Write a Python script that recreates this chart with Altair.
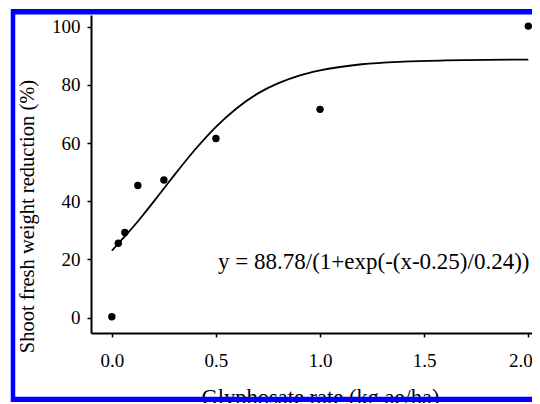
import altair as alt
import pandas as pd

# Observed data points
rate = [0.0, 0.03125, 0.0625, 0.125, 0.25, 0.5, 1.0, 2.0]
reduction = [0.3, 25.6, 29.3, 45.4, 47.3, 61.6, 71.6, 100.2]

# Fitted curve
curve_x = [0.0, 0.05, 0.1, 0.15, 0.2, 0.25, 0.3, 0.4, 0.5, 0.6, 0.7, 0.8, 0.9,
           1.0, 1.2, 1.4, 1.6, 1.8, 2.0]
curve_y = [23.0, 27.0, 31.0, 35.3, 39.8, 44.4, 49.0, 57.8, 65.6, 72.0, 77.0,
           80.6, 83.2, 85.0, 87.1, 88.0, 88.4, 88.6, 88.7]

equation = ["y = 88.78/(1+exp(-(x-0.25)/0.24))"]
eq_x = [0.51]
eq_y = [16.8]

x_ticks = [0.0, 0.5, 1.0, 1.5, 2.0]
y_ticks = list(range(0, 101, 10))

FONT = "Liberation Serif"
BLUE = "#0000ff"

pts = pd.DataFrame({"rate": rate, "reduction": reduction})
crv = pd.DataFrame({"rate": curve_x, "reduction": curve_y})
eqd = pd.DataFrame({"rate": eq_x, "reduction": eq_y, "label": equation})

xscale = alt.Scale(domain=[-0.1, 2.0178], nice=False, zero=False)
yscale = alt.Scale(domain=[-5.26, 104.02], nice=False, zero=False)

xaxis = alt.Axis(
    values=x_ticks, format=".1f", title="Glyphosate rate (kg ae/ha)",
    labelFontSize=19, labelPadding=14, tickSize=4,
    labelAlign=alt.expr("datum.value >= 2 ? 'right' : 'center'"),
    labelOffset=alt.expr("datum.value >= 2 ? 4 : 0"),
    labelBound=False, labelFlush=False,
    titleFontSize=22.5, titleFontWeight="normal", titleX=229, titleY=71,
    titleBaseline="alphabetic", titleAlign="center",
)
yaxis = alt.Axis(
    values=y_ticks, format="d", title="Shoot fresh weight reduction (%)",
    labelExpr="datum.value % 20 == 0 ? datum.label : ''",
    labelFontSize=19, labelPadding=7, tickSize=4,
    titleFontSize=20.5, titleFontWeight="normal", titleX=-58, titleY=201,
    titleAngle=270, titleBaseline="alphabetic", titleAlign="center",
)

base_x = alt.X("rate:Q", scale=xscale, axis=xaxis)
base_y = alt.Y("reduction:Q", scale=yscale, axis=yaxis)

line = alt.Chart(crv).mark_line(color="black", strokeWidth=1.8,
                                interpolate="monotone").encode(x=base_x, y=base_y)
dots = alt.Chart(pts).mark_circle(color="black", opacity=1, size=55).encode(
    x=alt.X("rate:Q", scale=xscale), y=alt.Y("reduction:Q", scale=yscale))
text = alt.Chart(eqd).mark_text(align="left", baseline="alphabetic", font=FONT,
                                fontSize=23, color="black").encode(
    x=alt.X("rate:Q", scale=xscale), y=alt.Y("reduction:Q", scale=yscale),
    text="label:N")

one = pd.DataFrame({"k": [0]})
top = alt.Chart(one).mark_rule(color=BLUE, strokeWidth=5.5).encode(
    x=alt.value(-80), x2=alt.value(441), y=alt.value(-3.25))
left = alt.Chart(one).mark_rule(color=BLUE, strokeWidth=4.5).encode(
    x=alt.value(-78), y=alt.value(-6), y2=alt.value(387))
bottom = alt.Chart(one).mark_rule(color=BLUE, strokeWidth=5.3).encode(
    x=alt.value(-80), x2=alt.value(441), y=alt.value(384.3))

chart = alt.layer(line, dots, text, top, left, bottom).properties(
    width=441, height=318,
    autosize=alt.AutoSizeParams(type="none"),
    padding={"left": 83, "top": 7, "right": 0, "bottom": 70},
).configure_view(stroke=None).configure_axis(
    grid=False, domainColor="black", domainWidth=2, tickColor="black",
    tickWidth=1.5, labelColor="black", titleColor="black",
    labelFont=FONT, titleFont=FONT,
)

chart.save("out.html", embed_options={"renderer": "svg", "actions": False})
